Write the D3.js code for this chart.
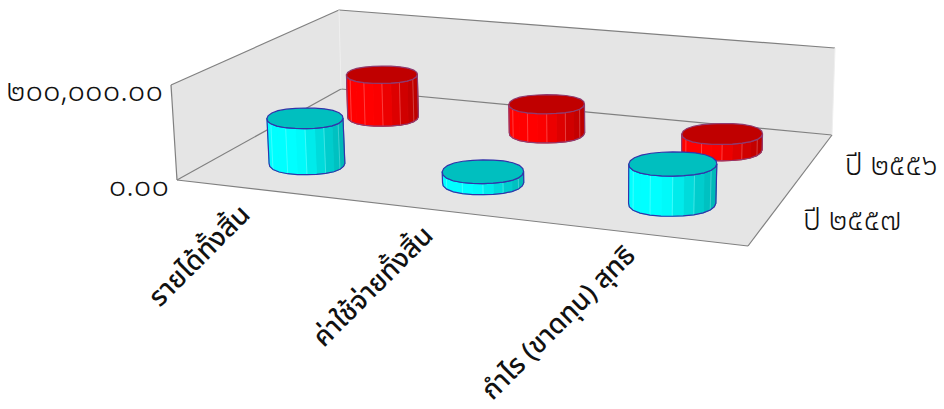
<!DOCTYPE html>
<html>
<head>
<meta charset="utf-8">
<script src="https://cdn.jsdelivr.net/npm/d3@7"></script>
<style>
  html, body { margin: 0; background: #fff; }
  text { font-family: "Noto Sans Thai", "Noto Sans", "DejaVu Sans", "Liberation Sans", sans-serif; fill: #111; }
</style>
</head>
<body>
<div id="chart"></div>
<script>
// Chart data
const categories = ["รายได้ทั้งสิ้น", "ค่าใช้จ่ายทั้งสิ้น", "กำไร (ขาดทุน) สุทธิ"];
const years = ["ปี ๒๕๕๗", "ปี ๒๕๕๖"]; // front row first
const values2557 = [98000, 23000, 80000];
const values2556 = [100000, 66000, 36000];
const yTicks = [0, 200000];
const yTickLabels = ["๐.๐๐", "๒๐๐,๐๐๐.๐๐"];

const width = 944;
const height = 409;

const series = [
  { year: years[0], values: values2557, light: "#00ffff", dark: "#00b4b4", top: "#00bfbf", line: "#3333aa" },
  { year: years[1], values: values2556, light: "#ff0000", dark: "#b80000", top: "#c00000", line: "#8f3a70" }
];

// Corners of the box on screen: front-left, front-right, back-right, back-left
const floorQuad = [[177, 180], [748, 246], [832, 135], [341, 89]];
const roofQuad = [[171, 85], [752, 141], [835, 48], [339, 10]];

// Maps the unit square onto a quad, so the perspective of the box is kept
function homography(q) {
  const [[x0, y0], [x1, y1], [x2, y2], [x3, y3]] = q;
  const dx1 = x1 - x2, dx2 = x3 - x2, sx = x0 - x1 + x2 - x3;
  const dy1 = y1 - y2, dy2 = y3 - y2, sy = y0 - y1 + y2 - y3;
  const den = dx1 * dy2 - dx2 * dy1;
  const g = (sx * dy2 - dx2 * sy) / den;
  const h = (dx1 * sy - sx * dy1) / den;
  const a = x1 - x0 + g * x1, b = x3 - x0 + h * x3;
  const d = y1 - y0 + g * y1, e = y3 - y0 + h * y3;
  return (u, v) => {
    const w = g * u + h * v + 1;
    return [(a * u + b * v + x0) / w, (d * u + e * v + y0) / w];
  };
}

const floorAt = homography(floorQuad);
const roofAt = homography(roofQuad);

// u along categories, v along years, t up the value axis (all 0..1)
function project(u, v, t) {
  const p = floorAt(u, v), q = roofAt(u, v);
  return [p[0] + (q[0] - p[0]) * t, p[1] + (q[1] - p[1]) * t];
}

const x = d3.scaleBand().domain(categories).range([0, 1]);
const z = d3.scaleBand().domain(years).range([0, 1]);
const y = d3.scaleLinear().domain([0, 200000]).range([0, 1]);

const svg = d3.select("#chart").append("svg")
  .attr("width", width)
  .attr("height", height)
  .style("display", "block");

const poly = pts => d3.line()(pts) + "Z";

// Walls and floor
const walls = [
  [[0, 0, 0], [0, 1, 0], [0, 1, 1], [0, 0, 1]],
  [[0, 1, 0], [1, 1, 0], [1, 1, 1], [0, 1, 1]],
  [[0, 0, 0], [1, 0, 0], [1, 1, 0], [0, 1, 0]]
];
svg.selectAll("path.wall")
  .data(walls)
  .enter()
  .append("path")
  .attr("class", "wall")
  .attr("d", d => poly(d.map(c => project(...c))))
  .attr("fill", "#e5e5e5");

const edges = [
  [[0, 0, 0], [1, 0, 0]], [[1, 0, 0], [1, 1, 0]], [[1, 1, 0], [0, 1, 0]], [[0, 1, 0], [0, 0, 0]],
  [[0, 0, 0], [0, 0, 1]], [[0, 0, 1], [0, 1, 1]], [[0, 1, 1], [1, 1, 1]]
];
svg.selectAll("path.edge")
  .data(edges)
  .enter()
  .append("path")
  .attr("class", "edge")
  .attr("d", d => d3.line()(d.map(c => project(...c))))
  .attr("stroke", "#808080")
  .attr("stroke-width", 1.2)
  .attr("fill", "none");

// Faint lines on the wall corners
svg.selectAll("path.corner")
  .data([[[0, 1, 0], [0, 1, 1]], [[1, 1, 0], [1, 1, 1]]])
  .enter()
  .append("path")
  .attr("class", "corner")
  .attr("d", d => d3.line()(d.map(c => project(...c))))
  .attr("stroke", "#efefef")
  .attr("fill", "none");

// Cylinders, back row first so the front row covers it
const segments = 24;
const radiusU = x.bandwidth() * 0.223;
const radiusV = z.bandwidth() * 0.23;

// The ring stays level on screen, sized by the local scale of the floor
function ring(cu, cv, t) {
  const rx = (project(cu + radiusU, cv, t)[0] - project(cu - radiusU, cv, t)[0]) / 2;
  const ry = (project(cu, cv - radiusV, t)[1] - project(cu, cv + radiusV, t)[1]) / 2;
  const c = project(cu, cv, t);
  return d3.range(segments + 1).map(i => {
    const a = i / segments * 2 * Math.PI;
    const r = 1 - 0.02 * Math.cos(4 * a) - 0.025 * Math.cos(2 * a - 2.4);
    return [c[0] + rx * r * Math.cos(a), c[1] + ry * r * Math.sin(a)];
  });
}

series.slice().reverse().forEach(s => {
  const shade = d3.scaleLinear().domain([0, 0.4, 1]).range([s.light, s.light, s.dark]);
  categories.forEach((c, i) => {
    const cu = x(c) + x.bandwidth() / 2;
    const cv = z(s.year) + z.bandwidth() / 2;
    const t = y(s.values[i]);
    const bottom = ring(cu, cv, 0);
    const top = ring(cu, cv, t);
    const g = svg.append("g");
    const half = segments / 2;
    const xMin = d3.min(bottom, p => p[0]);
    const xMax = d3.max(bottom, p => p[0]);
    const along = f => ((f[0][0] + f[1][0]) / 2 - xMin) / (xMax - xMin);

    // Near half of the ring only: in screen space y grows towards the viewer
    const facets = d3.range(half).map(j => [bottom[j], bottom[j + 1], top[j + 1], top[j]]);

    g.selectAll("path.facet")
      .data(facets)
      .enter()
      .append("path")
      .attr("class", "facet")
      .attr("d", poly)
      .attr("fill", f => shade(along(f)))
      .attr("stroke", f => shade(along(f)));

    // Thin light lines between the facets
    g.selectAll("line.rib")
      .data(d3.range(2, half - 1, 2))
      .enter()
      .append("line")
      .attr("class", "rib")
      .attr("x1", j => bottom[j][0])
      .attr("y1", j => bottom[j][1])
      .attr("x2", j => top[j][0])
      .attr("y2", j => top[j][1])
      .attr("stroke", "#ffffff")
      .attr("stroke-opacity", 0.3)
      .attr("stroke-width", 0.8);

    g.append("path")
      .attr("d", poly(bottom.slice(0, half + 1).concat(top.slice(0, half + 1).reverse())))
      .attr("fill", "none")
      .attr("stroke", s.line)
      .attr("stroke-width", 1.2);

    g.append("path")
      .attr("d", poly(top.slice(0, segments)))
      .attr("fill", s.top)
      .attr("stroke", s.line)
      .attr("stroke-width", 1.2);
  });
});

// Value axis labels
svg.selectAll("text.ytick")
  .data(yTicks)
  .enter()
  .append("text")
  .attr("class", "ytick")
  .attr("x", d => project(0, 0, y(d))[0] - 8)
  .attr("y", d => project(0, 0, y(d))[1] + 16)
  .attr("text-anchor", "end")
  .attr("font-size", 31)
  .attr("font-weight", 300)
  .text((d, i) => yTickLabels[i]);

// Year labels on the right side
svg.selectAll("text.year")
  .data(years)
  .enter()
  .append("text")
  .attr("class", "year")
  .attr("x", d => project(1, z(d) + z.bandwidth() / 2, 0)[0] + 31)
  .attr("y", d => project(1, z(d) + z.bandwidth() / 2, 0)[1] + 16)
  .attr("font-size", 30)
  .attr("font-weight", 300)
  .text(d => d);

// Category labels, rotated under the front edge; the long last one sits a little further right
svg.selectAll("text.cat")
  .data(categories)
  .enter()
  .append("text")
  .attr("class", "cat")
  .attr("transform", (d, i) => {
    const p = project(x(d) + x.bandwidth() / 2, 0, 0);
    const shift = i === 2 ? 6 : 1;
    return `translate(${p[0] - 13 + shift},${p[1] + 26 - (i === 2 ? 3 : 0)}) rotate(-45)`;
  })
  .attr("text-anchor", "end")
  .attr("font-size", 27)
  .attr("font-weight", 500)
  .text(d => d);
</script>
</body>
</html>
